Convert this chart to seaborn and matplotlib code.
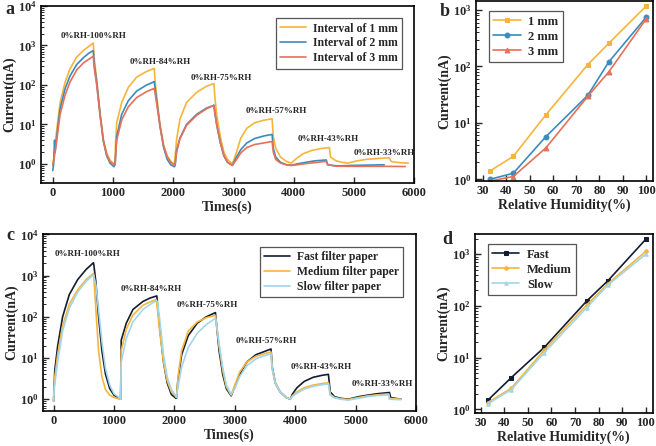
import matplotlib
matplotlib.use("Agg")
import matplotlib.pyplot as plt
import matplotlib.ticker as mticker
import seaborn as sns
import numpy as np

# ---------------- data ----------------
# panel a : current vs time for three electrode intervals (time s, current nA)
a_1mm = [(0,0.9),(20,1.5),(66,7.4),(122,36),(204,117),(287,257),(398,510),(508,750),(600,950),(672,1150),
         (690,450),(729,140),(785,20),(840,4.2),(895,1.9),(950,1.25),(1017,1.0),(1030,0.95),(1040,2.8),(1061,11),
         (1144,36),(1254,87),(1392,158),(1558,220),(1669,257),(1685,263),(1700,120),(1730,45),(1780,10),(1840,3),
         (1900,1.6),(1960,1.15),(2017,0.95),(2055,4.1),(2110,13.5),(2220,36),(2387,65),(2552,93),(2663,107),(2675,108),
         (2690,50),(2720,18),(2780,5),(2840,2),(2900,1.3),(2980,1.0),(3050,2.0),(3120,4.5),(3220,8),(3350,11),
         (3500,12.8),(3640,13.9),(3660,5),(3700,2.5),(3780,1.5),(3880,1.15),(3960,1.05),(4050,1.4),(4150,1.8),(4300,2.2),
         (4450,2.45),(4590,2.6),(4610,1.5),(4700,1.2),(4800,1.1),(4900,1.05),(5050,1.2),(5200,1.3),(5400,1.38),(5580,1.43),
         (5620,1.15),(5750,1.08),(5900,1.05)]
a_2mm = [(0,0.68),(15,1.0),(30,4.0),(40,2.0),(66,5),(122,25),(204,80),(287,170),(398,330),(508,490),(600,640),(672,740),
         (690,320),(729,120),(785,18),(840,3.8),(895,1.6),(950,1.05),(1017,0.85),(1035,1.0),(1061,5),(1144,18),(1254,40),
         (1392,70),(1558,100),(1669,118),(1685,122),(1700,80),(1730,35),(1780,9),(1840,2.6),(1900,1.3),(1960,0.95),(2017,0.85),
         (2030,0.9),(2055,2.2),(2110,4.5),(2220,10),(2387,18),(2552,26),(2663,30),(2675,31),(2690,20),(2720,10),(2780,3.5),
         (2840,1.6),(2900,1.1),(2980,0.92),(3050,1.5),(3120,2.3),(3220,3.4),(3350,4.4),(3500,5.1),(3640,5.6),(3660,2.5),
         (3700,1.5),(3780,1.1),(3880,0.95),(3960,0.92),(4050,1.0),(4200,1.1),(4350,1.2),(4500,1.25),(4540,1.26),(4560,0.95),
         (4700,0.9),(4800,0.9),(5000,0.92),(5300,0.94),(5500,0.95)]
a_3mm = [(0,1.0),(20,1.3),(66,4),(122,18),(204,55),(287,120),(398,240),(508,360),(600,450),(672,535),(690,260),(729,100),
         (785,17),(840,3.8),(895,1.7),(950,1.15),(1017,0.95),(1035,1.0),(1061,4),(1144,13),(1254,28),(1392,48),(1558,68),
         (1669,80),(1685,82),(1700,60),(1730,30),(1780,9),(1840,2.8),(1900,1.5),(1960,1.1),(2017,0.95),(2030,0.95),(2055,2.0),
         (2110,4.3),(2220,9.5),(2387,17),(2552,25),(2663,30),(2675,30),(2690,20),(2720,10),(2780,3.5),(2840,1.6),(2900,1.1),
         (2980,0.92),(3050,1.3),(3120,1.9),(3220,2.6),(3350,3.1),(3500,3.4),(3640,3.7),(3660,2),(3700,1.3),(3780,1.05),
         (3880,0.95),(3960,0.92),(4050,0.95),(4200,1.02),(4350,1.08),(4500,1.15),(4540,1.15),(4570,0.95),(4700,0.88),
         (4900,0.87),(5200,0.87),(5500,0.87),(5850,0.86)]
a_labels = ["Interval of 1 mm", "Interval of 2 mm", "Interval of 3 mm"]

# annotations (text, time, log10 current)
a_notes = [("0%RH-100%RH", 673, 3.23), ("0%RH-84%RH", 1778, 2.57), ("0%RH-75%RH", 2804, 2.18),
           ("0%RH-57%RH", 3702, 1.34), ("0%RH-43%RH", 4571, 0.62), ("0%RH-33%RH", 5500, 0.28)]

# panel b : peak current vs RH
rh = [33, 43, 57, 75, 84, 100]
b_1mm = [1.41, 2.54, 13.9, 108, 257, 1170]
b_2mm = [1.0, 1.28, 5.7, 30.8, 120, 740]
b_3mm = [0.93, 1.12, 3.6, 29.6, 80, 690]
b_labels = ["1 mm", "2 mm", "3 mm"]

# panel c : current vs time for three filter papers
c_fast = [(0,0.9),(20,5),(67,19),(150,100),(260,344),(400,800),(538,1400),(660,2040),(665,1900),(700,700),
          (745,100),(800,15),(860,4),(930,1.8),(1000,1.25),(1100,1.0),(1110,1.0),(1120,27),(1204,70),(1314,150),
          (1480,235),(1600,285),(1710,320),(1720,200),(1760,50),(1820,8),(1880,2.5),(1950,1.3),(2025,1.05),(2035,1.05),
          (2060,3),(2120,12),(2230,35),(2380,70),(2530,100),(2680,126),(2700,60),(2740,15),(2800,4),(2860,1.8),
          (2940,1.2),(3000,2.0),(3080,4),(3200,8),(3350,12),(3500,14.5),(3600,16.5),(3620,6),(3670,2.5),(3750,1.5),
          (3850,1.1),(3920,1.0),(3950,1.3),(4030,1.9),(4150,2.7),(4300,3.4),(4450,3.8),(4550,4.0),(4580,1.5),(4650,1.15),
          (4750,1.05),(4880,1.0),(5050,1.15),(5200,1.25),(5350,1.35),(5500,1.42),(5560,1.45),(5580,1.1),(5650,1.05),(5750,1.0)]
c_time = [0, 15, 67, 150, 260, 400, 538, 660, 665, 700, 745, 800, 860, 930, 1000, 1100, 1110, 1120, 1204, 1314,
          1480, 1600, 1700, 1720, 1760, 1820, 1880, 1950, 2025, 2035, 2060, 2120, 2230, 2380, 2530, 2680, 2700, 2740, 2800, 2860,
          2940, 3000, 3080, 3200, 3350, 3500, 3600, 3620, 3670, 3750, 3850, 3920, 3950, 4030, 4150, 4300, 4450, 4550, 4580, 4650,
          4750, 4880, 5050, 5200, 5350, 5500, 5550, 5560, 5650, 5750]
c_medium = [0.9, 3, 12, 60, 200, 450, 800, 1120, 1000, 150, 15, 3.5, 1.7, 1.25, 1.1, 1.0, 1.0, 15, 50, 110,
            190, 230, 260, 150, 40, 8, 2.8, 1.5, 1.15, 1.1, 3.5, 15, 45, 75, 95, 108, 60, 20, 5, 2,
            1.25, 2.2, 4.5, 8, 11, 12.8, 14, 5.5, 2.5, 1.5, 1.1, 1.0, 1.2, 1.5, 1.9, 2.2, 2.4, 2.5, 1.3, 1.1,
            1.02, 0.98, 1.1, 1.2, 1.27, 1.32, 1.33, 1.05, 1.02, 1.0]
c_slow = [0.9, 2, 8, 45, 160, 400, 720, 1050, 1000, 600, 150, 25, 5.5, 2.2, 1.35, 1.05, 1.0, 8, 30, 75,
          150, 200, 245, 230, 80, 12, 3.5, 1.7, 1.2, 1.1, 2, 6, 18, 40, 65, 92, 60, 22, 6, 2.2,
          1.3, 1.8, 3.5, 6.5, 9.5, 11.5, 12.5, 5.5, 2.5, 1.5, 1.1, 1.0, 1.15, 1.4, 1.75, 2.05, 2.25, 2.35, 1.25, 1.08,
          1.0, 0.95, 1.05, 1.15, 1.22, 1.26, 1.27, 1.0, 0.98, 0.97]
c_labels = ["Fast filter paper", "Medium filter paper", "Slow filter paper"]
c_notes = [("0%RH-100%RH", 566, 3.51), ("0%RH-84%RH", 1620, 2.68), ("0%RH-75%RH", 2546, 2.28),
           ("0%RH-57%RH", 3516, 1.42), ("0%RH-43%RH", 4431, 0.78), ("0%RH-33%RH", 5446, 0.36)]

# panel d : peak current vs RH for filter papers
d_fast = [1.49, 4.1, 15.8, 125, 309, 1950]
d_medium = [1.35, 2.55, 14, 105, 270, 1130]
d_slow = [1.28, 2.4, 12.5, 93, 255, 1000]
d_labels = ["Fast", "Medium", "Slow"]

# ---------------- style ----------------
sns.set_theme(style="ticks")
plt.rcParams["font.family"] = ["Liberation Serif", "DejaVu Serif"]
plt.rcParams["font.weight"] = "bold"
plt.rcParams["axes.labelweight"] = "bold"
plt.rcParams["mathtext.fontset"] = "custom"
plt.rcParams["mathtext.rm"] = "Liberation Serif:bold"
plt.rcParams["mathtext.it"] = "Liberation Serif:bold"
plt.rcParams["mathtext.bf"] = "Liberation Serif:bold"

col_a = ["#F6B53A", "#3A8BBE", "#E6705A"]
col_c = ["#121d30", "#F6B53A", "#A3D6EA"]

W, H = 656, 446
fig = plt.figure(figsize=(W / 100, H / 100), dpi=100)


def box(l, t, r, b):
    return [l / W, 1 - b / H, (r - l) / W, (b - t) / H]


ax_a = fig.add_axes(box(40.7, 6, 414.3, 183.3))
ax_b = fig.add_axes(box(476, 1, 653, 181))
ax_c = fig.add_axes(box(42.7, 234.3, 416, 410.7))
ax_d = fig.add_axes(box(474.7, 234, 652.7, 413.3))


def logfmt(v, pos):
    if v <= 0:
        return ""
    e = np.log10(v)
    if abs(e - round(e)) > 1e-6:
        return ""
    return r"$10^{%d}$" % round(e)


def style_axes(ax, xlabel):
    ax.set_yscale("log")
    for s in ax.spines.values():
        s.set_linewidth(1.2)
        s.set_color("black")
    ax.tick_params(axis="both", which="major", direction="in", length=4, width=1.0,
                   labelsize=9, top=False, right=False, pad=3)
    ax.tick_params(axis="y", which="minor", direction="in", length=2, width=0.7, right=False)
    ax.yaxis.set_major_locator(mticker.LogLocator(base=10, numticks=10))
    ax.yaxis.set_minor_locator(mticker.LogLocator(base=10, subs=np.arange(2, 10), numticks=20))
    ax.yaxis.set_minor_formatter(mticker.NullFormatter())
    ax.yaxis.set_major_formatter(mticker.FuncFormatter(logfmt))
    ax.set_xlabel(xlabel, fontsize=10, fontweight="bold", labelpad=1)
    ax.set_ylabel("Current(nA)", fontsize=10, fontweight="bold", labelpad=1)
    for lab in ax.get_xticklabels():
        lab.set_fontweight("bold")


def legend(ax, loc, bbox, size):
    lg = ax.legend(loc=loc, bbox_to_anchor=bbox, frameon=True, fancybox=False, framealpha=1,
                   edgecolor="#555555", prop={"weight": "bold", "size": size}, handlelength=2.2,
                   labelspacing=0.25, borderpad=0.35, handletextpad=0.6, borderaxespad=0.6)
    lg.get_frame().set_linewidth(0.9)


# ---------------- panel a ----------------
for data, c, lab in zip([a_1mm, a_2mm, a_3mm], col_a, a_labels):
    t = [p[0] for p in data]
    v = [p[1] for p in data]
    sns.lineplot(x=t, y=v, ax=ax_a, color=c, label=lab, sort=False, estimator=None, lw=1.2)
style_axes(ax_a, "Times(s)")
ax_a.set_xlim(-200, 6000)
ax_a.set_ylim(10 ** -0.49, 10 ** 4)
ax_a.set_xticks([0, 1000, 2000, 3000, 4000, 5000, 6000])
for txt, x, ly in a_notes:
    ax_a.text(x, 10 ** ly, txt, ha="center", va="center", fontsize=6.5, fontweight="bold")
legend(ax_a, "upper right", (0.985, 0.97), 8.5)

# ---------------- panel b ----------------
for vals, c, lab, m in zip([b_1mm, b_2mm, b_3mm], col_a, b_labels, ["s", "o", "^"]):
    sns.lineplot(x=rh, y=vals, ax=ax_b, color=c, label=lab, marker=m, markersize=3.5,
                 markeredgecolor=c, lw=1.2, sort=False, estimator=None)
style_axes(ax_b, "Relative Humidity(%)")
ax_b.set_xlim(27, 103)
ax_b.set_ylim(10 ** -0.03, 10 ** 3.16)
ax_b.set_xticks([30, 40, 50, 60, 70, 80, 90, 100])
legend(ax_b, "upper left", (0.03, 0.985), 9)

# ---------------- panel c ----------------
series_c = [(c_fast, None), (c_medium, c_time), (c_slow, c_time)]
for (data, tt), c, lab in zip(series_c, col_c, c_labels):
    if tt is None:
        t = [p[0] for p in data]
        v = [p[1] for p in data]
    else:
        t, v = tt, data
    sns.lineplot(x=t, y=v, ax=ax_c, color=c, label=lab, sort=False, estimator=None, lw=1.2)
style_axes(ax_c, "Times(s)")
ax_c.set_xlim(-180, 5950)
ax_c.set_ylim(10 ** -0.28, 10 ** 4)
ax_c.set_xticks([0, 1000, 2000, 3000, 4000, 5000, 6000])
for txt, x, ly in c_notes:
    ax_c.text(x, 10 ** ly, txt, ha="center", va="center", fontsize=6.5, fontweight="bold")
legend(ax_c, "upper right", (0.985, 0.97), 8.5)

# ---------------- panel d ----------------
for vals, c, lab, m in zip([d_fast, d_medium, d_slow], col_c, d_labels, ["s", "o", "^"]):
    sns.lineplot(x=rh, y=vals, ax=ax_d, color=c, label=lab, marker=m, markersize=2.5,
                 markeredgecolor=c, lw=1.2, sort=False, estimator=None)
style_axes(ax_d, "Relative Humidity(%)")
ax_d.set_xlim(27.5, 102.9)
ax_d.set_ylim(10 ** -0.077, 10 ** 3.39)
ax_d.set_xticks([30, 40, 50, 60, 70, 80, 90, 100])
legend(ax_d, "upper left", (0.03, 0.985), 9)

# panel letters
for letter, x, y in [("a", 5, 9), ("b", 440, 11), ("c", 6, 236), ("d", 442, 239)]:
    fig.text(x / W, 1 - y / H, letter, fontsize=13, fontweight="bold", ha="left", va="center")

fig.savefig("out.png", dpi=100)
